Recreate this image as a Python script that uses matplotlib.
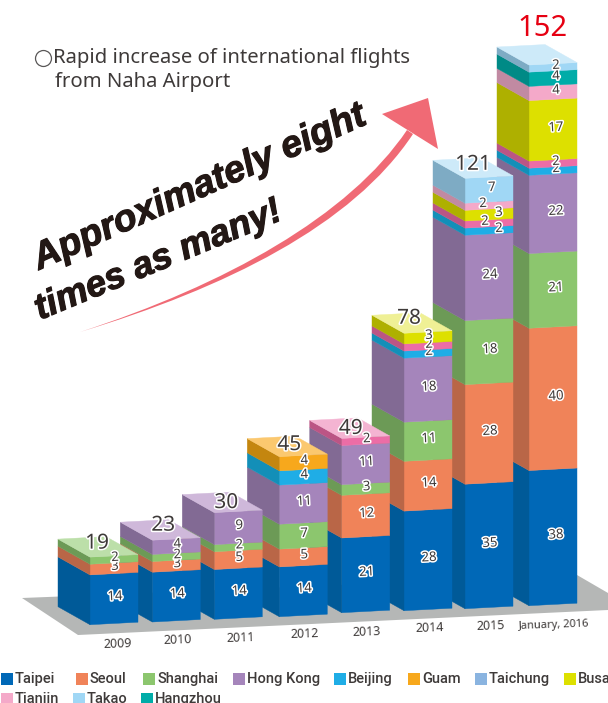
import matplotlib
matplotlib.use("Agg")
import matplotlib.pyplot as plt
import matplotlib.patheffects as pe
from matplotlib.path import Path
from matplotlib.patches import PathPatch, Polygon

years = ["2009", "2010", "2011", "2012", "2013", "2014", "2015", "January, 2016"]
totals = [19, 23, 30, 45, 49, 78, 121, 152]

taipei = [14, 14, 14, 14, 21, 28, 35, 38]
seoul = [3, 3, 5, 5, 12, 14, 28, 40]
shanghai = [2, 2, 2, 7, 3, 11, 18, 21]
hong_kong = [0, 4, 9, 11, 11, 18, 24, 22]
beijing = [0, 0, 0, 4, 0, 2, 2, 2]
guam = [0, 0, 0, 4, 0, 0, 0, 0]
magenta = [0, 0, 0, 0, 2, 2, 2, 2]
busan = [0, 0, 0, 0, 0, 3, 3, 17]
tianjin = [0, 0, 0, 0, 0, 0, 2, 4]
hangzhou = [0, 0, 0, 0, 0, 0, 0, 4]
takao = [0, 0, 0, 0, 0, 0, 7, 2]

# bottom to top, (values, front, side, top)
stack = [
    (taipei, "#0068b7", "#005a98", "#4d95cd"),
    (seoul, "#f08359", "#b96647", "#f6b59b"),
    (shanghai, "#8cc66e", "#6c9a56", "#bcdfa9"),
    (hong_kong, "#a585bb", "#826a94", "#cfb8da"),
    (beijing, "#1fade6", "#138fb8", "#8fd5f2"),
    (guam, "#f7a81c", "#c4860f", "#fbc86f"),
    (magenta, "#ec6da6", "#bb5585", "#f4b4d2"),
    (busan, "#dde000", "#aeb000", "#eff095"),
    (tianjin, "#f4a9c9", "#c18aa2", "#f9d2e2"),
    (hangzhou, "#00aca8", "#008a86", "#80d5d3"),
    (takao, "#a0d7f5", "#7eabc4", "#cdeaf9"),
]

legend_names = ["Taipei", "Seoul", "Shanghai", "Hong Kong", "Beijing", "Guam", "Taichung", "Busan",
                "Tianjin", "Takao", "Hangzhou"]
legend_colors = ["#0068b7", "#f08359", "#8cc66e", "#a585bb", "#1fade6", "#f7a81c", "#8ab4e0", "#dde000",
                 "#f4a9c9", "#a0d7f5", "#00aca8"]

# layout, in pixels
bar_x = [90, 152.3, 214.3, 279.3, 341.7, 404, 465, 529]
bar_y = [624.7, 622, 619.3, 616.7, 612.7, 610.7, 608.7, 605.7]
bar_w = 48
rise = 2.5
side_dx = 32
side_dy = 18
unit = 3.557
total_dx = [7, 11, 12, 10, 9, 5, 8, 14]
total_dy = [-14, -15, -10, -12, -10, -15, -14, -37]
year_x = [117, 177, 240, 304, 366, 429, 490, 554]
year_y = [644, 640, 638, 634, 632, 628, 626, 625]
legend_x = [1, 76, 143, 233, 334, 408, 475, 564, 1, 73, 141]
legend_y = [673, 673, 673, 673, 673, 673, 673, 673, 693, 693, 693]
# the crowded labels of 2015 step sideways
label_shift = {(6, 4): 9, (6, 6): -5, (6, 7): 9, (6, 8): -7, (6, 10): 2}

text_col = "#3e3a39"
label_font = "Noto Sans"

fig = plt.figure(figsize=(6.08, 7.03), dpi=100)
ax = fig.add_axes([0, 0, 1, 1])
ax.set_xlim(0, 608)
ax.set_ylim(703, 0)
ax.axis("off")

ax.add_patch(Polygon([(22, 598), (78, 635), (608, 610), (608, 593), (577, 575), (60, 596.5)],
                     facecolor="#b5b7b6", edgecolor="none", zorder=1))

# right to left, nearer bars cover the sides of the next one
for i in range(len(years) - 1, -1, -1):
    x = bar_x[i]
    y = bar_y[i]
    cum = 0
    top_col = None
    for values, front, side, top in stack:
        v = values[i]
        if v == 0:
            continue
        y0 = y - cum * unit
        y1 = y - (cum + v) * unit
        ax.add_patch(Polygon([(x, y0), (x + bar_w, y0 - rise), (x + bar_w, y1 - rise), (x, y1)],
                             facecolor=front, edgecolor=front, lw=0.3, zorder=2))
        ax.add_patch(Polygon([(x, y0), (x - side_dx, y0 - side_dy), (x - side_dx, y1 - side_dy), (x, y1)],
                             facecolor=side, edgecolor=side, lw=0.3, zorder=2))
        cum += v
        top_col = top
    yt = y - cum * unit
    ax.add_patch(Polygon([(x, yt), (x + bar_w, yt - rise), (x + bar_w - side_dx, yt - rise - side_dy),
                          (x - side_dx, yt - side_dy)],
                         facecolor=top_col, edgecolor=top_col, lw=0.3, zorder=2))

halo = [pe.withStroke(linewidth=2.2, foreground="white")]
for i in range(len(years)):
    cum = 0
    dx = 3 if i == 7 else 1
    for k, (values, front, side, top) in enumerate(stack):
        v = values[i]
        if v == 0:
            continue
        lx = bar_x[i] + bar_w / 2 + dx + label_shift.get((i, k), 0)
        ly = bar_y[i] - rise / 2 - (cum + v / 2) * unit - 2
        ax.text(lx, ly, str(v), ha="center", va="center", fontsize=9.5, family=label_font,
                color=text_col, rotation=3, path_effects=halo, zorder=5)
        cum += v
    yt = bar_y[i] - cum * unit
    tot_col = "#e60012" if i == 7 else text_col
    ax.text(bar_x[i] + total_dx[i], yt + total_dy[i], str(totals[i]), ha="center", va="center",
            fontsize=21 if i == 7 else 15, family=label_font, color=tot_col,
            path_effects=None if i == 7 else halo, zorder=6)
    ax.text(year_x[i], year_y[i], years[i], ha="center", va="center",
            fontsize=8 if i == 7 else 9, family=label_font, color=text_col, rotation=2, zorder=5)

for name, col, lx, ly in zip(legend_names, legend_colors, legend_x, legend_y):
    ax.add_patch(Polygon([(lx, ly), (lx + 12, ly), (lx + 12, ly + 12), (lx, ly + 12)],
                         facecolor=col, edgecolor="none", zorder=3))
    ax.text(lx + 14, ly + 6, name, ha="left", va="center", fontsize=10.5, family="Roboto",
            weight="medium", color=text_col, zorder=3)

# heading
ax.plot([43], [58], marker="o", ms=11.5, mfc="white", mec="#595757", mew=0.9, zorder=3)
ax.text(53, 58, "Rapid increase of international flights", ha="left", va="center", fontsize=14.6,
        family=label_font, color=text_col)
ax.text(55, 82, "from Naha Airport", ha="left", va="center", fontsize=14.6, family=label_font, color=text_col)

# arrow
verts = [(80, 332), (225, 288), (352, 226), (413, 134),
         (407, 130), (349, 216), (225, 285), (80, 332)]
codes = [Path.MOVETO, Path.CURVE4, Path.CURVE4, Path.CURVE4, Path.LINETO, Path.CURVE4, Path.CURVE4, Path.CURVE4]
ax.add_patch(PathPatch(Path(verts, codes), facecolor="#f06a75", edgecolor="none", zorder=3))
ax.add_patch(Polygon([(382, 114), (428, 98), (438, 149)], facecolor="#f06a75", edgecolor="none", zorder=3))

heavy = [pe.withStroke(linewidth=0.8, foreground="#231815")]
ax.text(39, 270, "Approximately eight", rotation=24, rotation_mode="anchor", ha="left", va="baseline",
        fontsize=27, family="Liberation Sans", weight="bold", style="italic", color="#231815",
        path_effects=heavy, zorder=4)
ax.text(40, 320, "times as many!", rotation=22.5, rotation_mode="anchor", ha="left", va="baseline",
        fontsize=26.3, family="Liberation Sans", weight="bold", style="italic", color="#231815",
        path_effects=heavy, zorder=4)

fig.savefig("out.png", dpi=100, facecolor="white")
